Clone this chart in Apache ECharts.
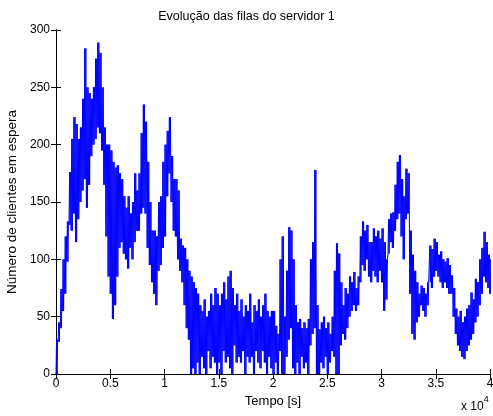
<!DOCTYPE html>
<html style="height: 100%">
<head>
<meta charset="utf-8">
<script src="https://cdn.jsdelivr.net/npm/echarts@6/dist/echarts.min.js"></script>
</head>
<body style="height: 100%; margin: 0; overflow: hidden; background: #fff;">
<div id="container" style="width: 493px; height: 416px;"></div>
<script>
// passo de leitura: 200 s, valor minimo e maximo da faixa em cada passo
var passo = 200;
var filaMin = [
  0, 28, 40, 55, 70,   98, 130, 125, 140, 115,
  135, 150, 160, 170, 145,   165, 190, 200, 205, 215,
  210, 195, 165, 120, 85,   70, 48, 60, 85, 110,
  115, 105, 100, 92, 110,   100, 115, 125, 125, 140,
  145, 140, 110, 95, 80,   70, 60, 90, 95, 110,
  120, 155, 175, 150, 125,   120, 100, 90, 80, 60,
  40, 30, 0, 5, 0,   10, 0, 15, 5, 0,
  20, 5, 15, 10, 0,   10, 0, 20, 10, 15,
  5, 0, 25, 10, 15,   10, 20, 0, 15, 10,
  15, 0, 20, 10, 5,   20, 10, 0, 15, 5,
  0, 10, 0, 20, 0,   0, 15, 30, 40, 5,
  0, 10, 0, 15, 5,   10, 0, 25, 35, 40,
  0, 0, 10, 5, 15,   0, 10, 20, 15, 0,
  0, 25, 35, 30, 40,   50, 55, 60, 55, 60,
  80, 95, 90, 100, 85,   80, 90, 85, 80, 90,
  80, 55, 65, 105, 115,   110, 125, 135, 140, 120,
  100, 135, 140, 70, 35,   30, 45, 50, 60, 55,
  50, 60, 80, 75, 85,   90, 85, 80, 75, 80,
  75, 70, 70, 50, 35,   25, 20, 15, 13, 20,
  25, 30, 35, 45, 50,   60, 70, 85, 80, 75,
  70
];
var filaMax = [
  30, 45, 74, 100, 120,   133, 176, 205, 224, 218,
  205, 215, 240, 284, 250,   245, 240, 250, 275, 289,
  280, 250, 215, 200, 200,   195, 185, 180, 182, 175,
  170, 155, 145, 155, 140,   150, 175, 160, 175, 210,
  235, 220, 185, 150, 125,   125, 120, 150, 155, 185,
  200, 212, 224, 190, 170,   170, 160, 118, 112, 110,
  100, 90, 85, 80, 75,   70, 60, 55, 65, 50,
  55, 70, 60, 75, 70,   60, 70, 80, 65, 85,
  90, 75, 60, 70, 55,   65, 50, 60, 55, 70,
  45, 60, 55, 65, 50,   60, 70, 55, 50, 55,
  55, 42, 35, 100, 120,   50, 90, 128, 125, 100,
  60, 45, 48, 40, 45,   40, 48, 100, 115, 178,
  60, 39, 45, 50, 40,   45, 35, 50, 90, 114,
  105, 80, 60, 75, 70,   85, 80, 89, 75, 85,
  120, 133, 125, 130, 115,   115, 127, 120, 125, 118,
  127, 115, 100, 135, 140,   141, 165, 185, 191, 170,
  155, 179, 175, 125, 104,   90, 80, 70, 77, 75,
  70, 80, 112, 109, 118,   115, 104, 107, 100, 98,
  101, 95, 86, 75, 57,   50, 55, 45, 50, 57,
  60, 71, 65, 83, 80,   100, 110, 124, 115, 104,
  100
];
var xTicks = [0, 0.5, 1, 1.5, 2, 2.5, 3, 3.5, 4];

// a fila oscila entre o minimo e o maximo lidos em cada passo
var serie = [];
for (var i = 0; i < filaMin.length; i++) {
  var t = i * passo;
  for (var k = 0; k < 4; k++) {
    var tk = Math.min(t + k * passo / 4, 40000);
    serie.push([tk, k % 2 === 0 ? filaMin[i] : filaMax[i]]);
  }
}

var fonte = "'Liberation Sans', Arial, sans-serif";
var eixoBase = {
  axisLine: { show: true, lineStyle: { color: '#000', width: 1 } },
  axisTick: { show: true, inside: true, length: 5, lineStyle: { color: '#000' } },
  splitLine: { show: false }
};

var myChart = echarts.init(document.getElementById('container'));
myChart.setOption({
  animation: false,
  textStyle: { fontFamily: fonte },
  title: {
    text: 'Evolução das filas do servidor 1',
    left: 'center',
    top: 5,
    textStyle: { fontSize: 12.5, fontWeight: 'normal', color: '#000', fontFamily: fonte }
  },
  grid: { left: 56, right: 3, top: 30, bottom: 42, containLabel: false, outerBoundsMode: 'none' },
  xAxis: [
    Object.assign({
      type: 'value', position: 'bottom', min: 0, max: 40000, interval: 5000,
      name: 'Tempo [s]', nameLocation: 'middle', nameGap: 21,
      nameTextStyle: { fontSize: 13, color: '#000', fontFamily: fonte },
      axisLabel: {
        color: '#000', fontSize: 12, margin: 4, fontFamily: fonte,
        formatter: function (v) { return xTicks[Math.round(v / 5000)]; }
      }
    }, eixoBase),
    Object.assign({
      type: 'value', position: 'top', min: 0, max: 40000, interval: 5000,
      axisLabel: { show: false }
    }, eixoBase)
  ],
  yAxis: [
    Object.assign({
      type: 'value', position: 'left', min: 0, max: 300, interval: 50,
      name: 'Número de clientes em espera', nameLocation: 'middle', nameGap: 30,
      nameTextStyle: { fontSize: 13.5, color: '#000', fontFamily: fonte },
      axisLabel: { color: '#000', fontSize: 12, margin: 6, fontFamily: fonte }
    }, eixoBase),
    Object.assign({
      type: 'value', position: 'right', min: 0, max: 300, interval: 50,
      axisLabel: { show: false }
    }, eixoBase)
  ],
  graphic: [{
    type: 'text',
    left: 461,
    top: 395,
    style: {
      text: '{a|x 10}{b|4}',
      rich: {
        a: { fontSize: 12, fill: '#000', fontFamily: fonte, padding: [6, 0, 0, 0] },
        b: { fontSize: 9, fill: '#000', fontFamily: fonte, verticalAlign: 'top' }
      }
    }
  }],
  series: [{
    type: 'line',
    data: serie,
    xAxisIndex: 0,
    yAxisIndex: 0,
    showSymbol: false,
    sampling: null,
    lineStyle: { color: '#0000ff', width: 1 },
    itemStyle: { color: '#0000ff' }
  }]
});
</script>
</body>
</html>
